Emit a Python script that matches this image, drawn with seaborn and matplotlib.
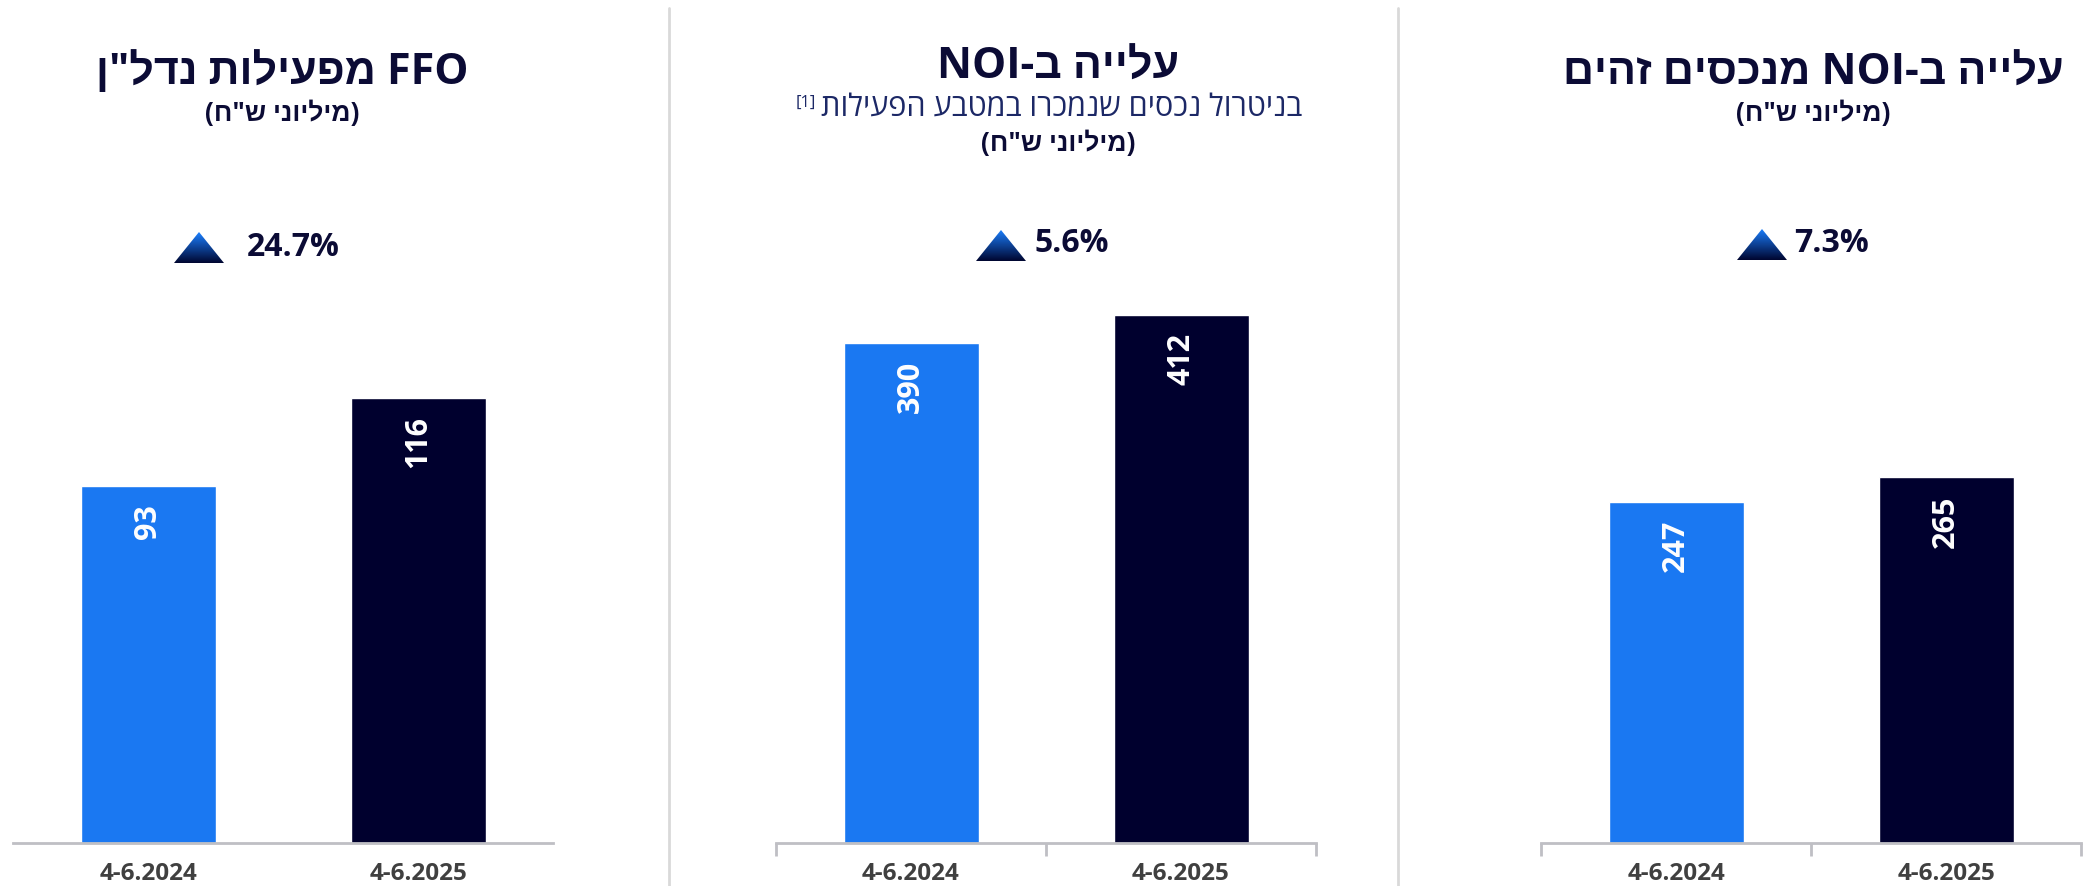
import re
import numpy as np
import pandas as pd
import seaborn as sns
import matplotlib.pyplot as plt
from matplotlib.lines import Line2D
from matplotlib.patches import Polygon
from matplotlib.colors import LinearSegmentedColormap

# data
periods = ['4-6.2024', '4-6.2025']
ffo = [93, 116]
noi_adjusted = [390, 412]
noi_same = [247, 265]
growth = ['24.7%', '5.6%', '7.3%']

titles = ['FFO מפעילות נדל"ן', 'עלייה ב-NOI', 'עלייה ב-NOI מנכסים זהים']
unit_label = '(מיליוני ש"ח)'
noi_note = 'בניטרול נכסים שנמכרו במטבע הפעילות'

blue = '#1a78f2'
dark = '#00002e'
navy = '#0b0b35'
grey_axis = '#bfbfc4'


def rtl(s):
    # matplotlib has no bidi support -> build visual order by hand
    r = s[::-1]
    r = re.sub(r'[A-Za-z0-9\.%]+', lambda m: m.group(0)[::-1], r)
    return r.translate(str.maketrans('()', ')('))


sns.set_theme(style='white')
plt.rcParams['font.family'] = ['Open Sans', 'Liberation Sans', 'DejaVu Sans']

W, H = 2087, 886
fig = plt.figure(figsize=(W / 100, H / 100), dpi=100)
fig.patch.set_facecolor('white')

panels = [
    dict(values=ffo, left=13, ymax=180.5, ticks=False),
    dict(values=noi_adjusted, left=776, ymax=540.5, ticks=True),
    dict(values=noi_same, left=1541, ymax=502, ticks=True),
]

for p in panels:
    ax = fig.add_axes([p['left'] / W, 43 / H, 540 / W, 693 / H])
    df = pd.DataFrame({'period': periods, 'value': p['values']})
    sns.barplot(data=df, x='period', y='value', hue='period',
                palette=[blue, dark], saturation=1, width=0.5,
                legend=False, ax=ax)
    ax.set_xlim(-0.5, 1.5)
    ax.set_ylim(0, p['ymax'])
    ax.set_xlabel('')
    ax.set_ylabel('')
    ax.set_yticks([])
    for s in ['top', 'left', 'right']:
        ax.spines[s].set_visible(False)
    ax.spines['bottom'].set_color(grey_axis)
    ax.spines['bottom'].set_linewidth(2)
    ax.tick_params(axis='x', which='major', length=0, pad=14,
                   labelsize=17.5, labelcolor='#404040')
    for lab in ax.get_xticklabels():
        lab.set_fontweight('bold')
    if p['ticks']:
        ax.set_xticks([-0.5, 0.5, 1.5], minor=True)
        ax.tick_params(axis='x', which='minor', length=9, width=2,
                       color=grey_axis, direction='out', bottom=True)
    for bar, v in zip(ax.patches, p['values']):
        ax.annotate(str(v), xy=(bar.get_x() + bar.get_width() / 2, v),
                    xytext=(0, -13), textcoords='offset points',
                    rotation=90, ha='center', va='top',
                    fontsize=22, fontweight='bold', color='white')

# titles
title_kw = dict(ha='center', va='center', fontsize=31, fontweight='bold', color=navy)
unit_kw = dict(ha='center', va='center', fontsize=19, fontweight='bold', color=navy)

fig.text(282 / W, 1 - 73 / H, rtl(titles[0]), **title_kw)
fig.text(282 / W, 1 - 114 / H, rtl(unit_label), **unit_kw)

fig.text(1058 / W, 1 - 67 / H, rtl(titles[1]), **title_kw)
note = fig.text(1062 / W, 1 - 108 / H, rtl(noi_note), ha='center', va='center',
                fontsize=22, color='#1c2866')
fig.text(1058 / W, 1 - 143 / H, rtl(unit_label), **unit_kw)
plt.annotate('[1]', xy=(0, 1), xycoords=note, xytext=(-4, -1),
             textcoords='offset points', ha='right', va='top',
             fontsize=12, color='#1c2866')

fig.text(1813 / W, 1 - 73 / H, rtl(titles[2]), **title_kw)
fig.text(1813 / W, 1 - 114 / H, rtl(unit_label), **unit_kw)

# growth triangles with gradient + percent
tri_cmap = LinearSegmentedColormap.from_list('tri', ['#1b80ff', '#000630'])
tri_boxes = [(174, 232), (976, 230), (1737, 229)]
pct_pos = [(247, 247), (1035, 243), (1794, 243)]
grad = np.linspace(0, 1, 100).reshape(-1, 1)
for (tx, ty), (px, py), g in zip(tri_boxes, pct_pos, growth):
    tax = fig.add_axes([tx / W, 1 - (ty + 31) / H, 50 / W, 31 / H])
    im = tax.imshow(grad, cmap=tri_cmap, extent=[0, 1, 0, 1], aspect='auto')
    im.set_clip_path(Polygon([(0, 0), (1, 0), (0.5, 1)], transform=tax.transAxes))
    tax.axis('off')
    fig.text(px / W, 1 - py / H, g, ha='left', va='center',
             fontsize=23, fontweight='bold', color=navy)

# panel separators
for x in [669, 1398]:
    fig.add_artist(Line2D([x / W, x / W], [0, 1 - 8 / H], transform=fig.transFigure,
                          color='#d9d9d9', linewidth=2))

fig.savefig('out.png', dpi=100, facecolor='white')
